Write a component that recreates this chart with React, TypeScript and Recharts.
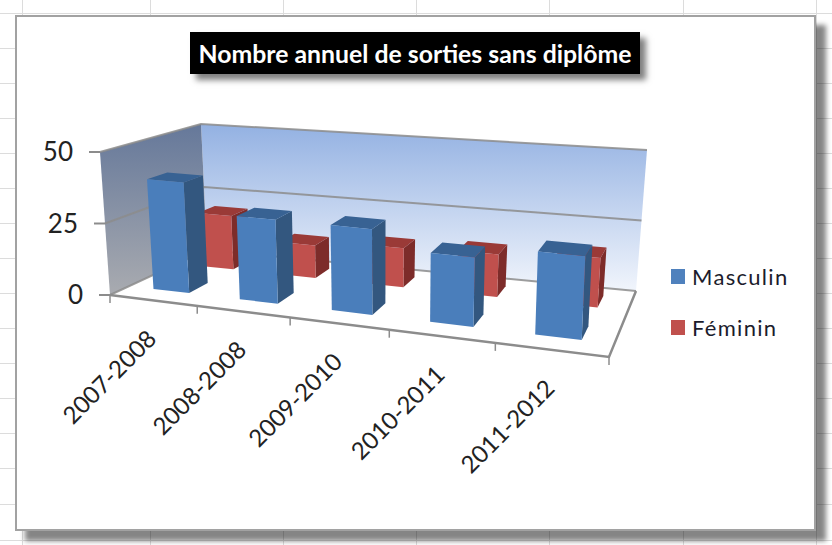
import { Bar, BarChart, Legend, XAxis, YAxis } from "recharts";

const categories = ["2007-2008", "2008-2008", "2009-2010", "2010-2011", "2011-2012"];
const masculin = [39, 29, 29, 23, 27];
const feminin = [20, 12, 14, 15, 17];
const yTicks = [0, 25, 50];
const data = categories.map((name, i) => ({ name, Masculin: masculin[i], Féminin: feminin[i] }));

const PLOT = { left: 110, right: 609, top: 152, bottom: 295 };
const plotWidth = PLOT.right - PLOT.left;
const plotHeight = PLOT.bottom - PLOT.top;
const FONT = "Lato, 'Open Sans', sans-serif";

// corners of the fake 3d box, [x, y] on screen
const FLB = [110, 295];
const FRB = [609, 357];
const BLB = [207, 250];
const BRB = [636, 291];
const FLT = [100, 152];
const FRT = [616, 197];
const BLT = [201, 124];
const BRT = [647, 150];

const mix = (a: number[], b: number[], t: number) => [a[0] + (b[0] - a[0]) * t, a[1] + (b[1] - a[1]) * t];

// u along the categories, d into the depth, h up the value axis (all 0..1)
const project = (u: number, d: number, h: number) => {
  const f = u / (u + 1.18 * (1 - u));
  const low = mix(mix(FLB, FRB, f), mix(BLB, BRB, f), d);
  const high = mix(mix(FLT, FRT, f), mix(BLT, BRT, f), d);
  return mix(low, high, h);
};

const pts = (list: number[][]) => list.map((p) => `${p[0].toFixed(1)},${p[1].toFixed(1)}`).join(" ");

const Box3D = ({ x, width, height, d0, d1, front, side, top }: any) => {
  const u0 = (x - PLOT.left) / plotWidth;
  const u1 = (x + width - PLOT.left) / plotWidth;
  const h = height / plotHeight;
  return (
    <g>
      <polygon points={pts([project(u1, d0, 0), project(u1, d1, 0), project(u1, d1, h), project(u1, d0, h)])} fill={side} />
      <polygon points={pts([project(u0, d0, h), project(u1, d0, h), project(u1, d1, h), project(u0, d1, h)])} fill={top} />
      <polygon points={pts([project(u0, d0, 0), project(u1, d0, 0), project(u1, d0, h), project(u0, d0, h)])} fill={front} />
    </g>
  );
};

const Walls = () => {
  const line = "#8c8c8c";
  return (
    <g>
      <defs>
        <linearGradient id="backWall" x1="0" y1="0" x2="0" y2="1">
          <stop offset="0%" stopColor="#93b1e2" />
          <stop offset="100%" stopColor="#f1f5fc" />
        </linearGradient>
        <linearGradient id="sideWall" x1="0" y1="0" x2="0" y2="1">
          <stop offset="0%" stopColor="#65789a" />
          <stop offset="100%" stopColor="#a9abb0" />
        </linearGradient>
      </defs>
      <polygon points={pts([BLT, BRT, BRB, BLB])} fill="url(#backWall)" />
      <polygon points={pts([FLT, BLT, BLB, FLB])} fill="url(#sideWall)" />
      {yTicks.map((t) => {
        const h = t / yTicks[yTicks.length - 1];
        return (
          <polyline
            key={t}
            points={pts([project(0, 0, h), project(0, 1, h), project(1, 1, h)])}
            fill="none"
            stroke={line}
            strokeWidth={2}
            opacity={0.85}
          />
        );
      })}
      <polyline points={pts([FLB, FRB, BRB])} fill="none" stroke={line} strokeWidth={2.5} />
      {[...categories, ""].map((_, i) => {
        const a = project(i / categories.length, 0, 0);
        return <line key={i} x1={a[0]} y1={a[1]} x2={a[0]} y2={a[1] + 8} stroke={line} strokeWidth={1.5} />;
      })}
    </g>
  );
};

const CategoryTick = ({ x, payload }: any) => {
  const p = project((x - PLOT.left) / plotWidth, 0, 0);
  const tx = p[0] + 5;
  const ty = p[1] + 40;
  return (
    <text x={tx} y={ty} textAnchor="end" fontFamily={FONT} fontSize={24} fill="#222" transform={`rotate(-45 ${tx} ${ty})`}>
      {payload.value}
    </text>
  );
};

const ValueTick = ({ payload }: any) => {
  const p = project(0, 0, payload.value / yTicks[yTicks.length - 1]);
  return (
    <g>
      <line x1={p[0] - 11} y1={p[1]} x2={p[0]} y2={p[1]} stroke="#8c8c8c" strokeWidth={2} />
      <text x={p[0] - 27} y={p[1] + 9} textAnchor="end" fontFamily={FONT} fontSize={26} fill="#222">
        {payload.value}
      </text>
    </g>
  );
};

const renderLegend = ({ payload }: any) => {
  const items = [...payload].sort((a: any, b: any) => String(b.value).localeCompare(String(a.value)));
  return (
    <div style={{ fontFamily: FONT }}>
      {items.map((entry: any) => (
        <div key={entry.value} style={{ display: "flex", alignItems: "center", height: 51 }}>
          <div style={{ width: 14, height: 15, background: entry.color, marginRight: 7 }} />
          <span style={{ fontSize: 22, letterSpacing: 1.3, color: "#1c1c2c" }}>{entry.value}</span>
        </div>
      ))}
    </div>
  );
};

const hRows = [13, 48, 83, 118, 153, 188, 223, 258, 293, 328, 363, 398, 433, 468, 504, 540];
const vCols = [22, 150, 283, 416, 549, 683, 816];

export default function App() {
  return (
    <div style={{ position: "absolute", left: 0, top: 0, width: 832, height: 545, overflow: "hidden", background: "#fff" }}>
      {hRows.map((y) => (
        <div key={y} style={{ position: "absolute", left: 0, top: y, width: 832, height: 1, background: "#dcdcdc" }} />
      ))}
      {vCols.map((x) => (
        <div key={x} style={{ position: "absolute", left: x, top: 0, width: 1, height: 545, background: "#dcdcdc" }} />
      ))}
      <div
        style={{
          position: "absolute",
          left: 15,
          top: 15,
          width: 801,
          height: 516,
          boxSizing: "border-box",
          background: "#fff",
          border: "2px solid #a2a2a2",
          boxShadow: "10px 10px 5px rgba(0,0,0,0.48)",
        }}
      />
      <div
        style={{
          position: "absolute",
          left: 190,
          top: 32,
          width: 450,
          height: 42,
          lineHeight: "44px",
          background: "#000",
          color: "#fff",
          textAlign: "center",
          fontFamily: FONT,
          fontWeight: 700,
          fontSize: 24.8,
          whiteSpace: "nowrap",
          boxShadow: "6px 6px 6px rgba(0,0,0,0.5)",
        }}
      >
        Nombre annuel de sorties sans diplôme
      </div>
      <div style={{ position: "absolute", left: 0, top: 0 }}>
        <BarChart
          width={832}
          height={545}
          data={data}
          margin={{ left: PLOT.left - 1, right: 832 - PLOT.right, top: PLOT.top, bottom: 545 - PLOT.bottom - 1 }}
          barSize={42}
          barGap={-42}
        >
          <Walls />
          <XAxis dataKey="name" height={1} axisLine={false} tickLine={false} interval={0} tick={(p: any) => <CategoryTick {...p} />} />
          <YAxis width={1} domain={[0, 50]} ticks={yTicks} axisLine={false} tickLine={false} tick={(p: any) => <ValueTick {...p} />} />
          <Legend
            layout="horizontal"
            align="center"
            verticalAlign="middle"
            wrapperStyle={{ left: 671, top: 251, width: 150 }}
            content={renderLegend}
          />
          <Bar
            dataKey="Féminin"
            fill="#c0504d"
            isAnimationActive={false}
            shape={(p: any) => <Box3D {...p} d0={0.7} d1={0.88} front="#c0504d" side="#7d2c2a" top="#9a3a37" />}
          />
          <Bar
            dataKey="Masculin"
            fill="#4f81bd"
            isAnimationActive={false}
            shape={(p: any) => <Box3D {...p} d0={0.2} d1={0.41} front="#4a7ebb" side="#33577f" top="#386293" />}
          />
        </BarChart>
      </div>
    </div>
  );
}
